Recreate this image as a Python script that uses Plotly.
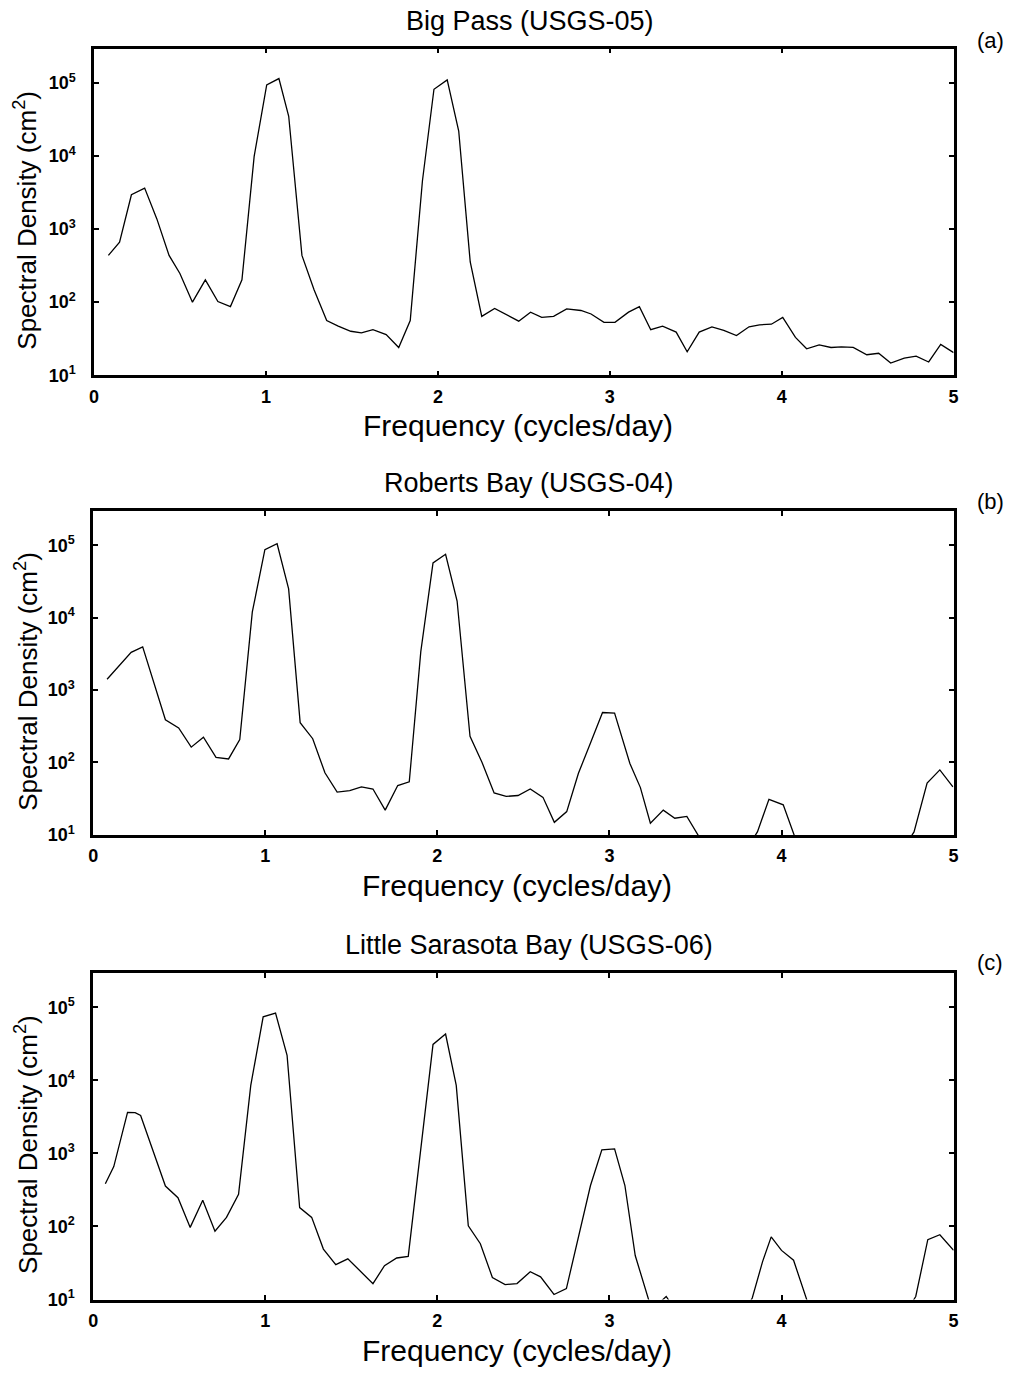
import plotly.graph_objects as go

# ---------------- data ----------------
freq_a = [0.083, 0.148, 0.217, 0.294, 0.365, 0.436, 0.499, 0.572, 0.647, 0.72, 0.793, 0.86, 0.931, 1.004,
          1.075, 1.132, 1.209, 1.28, 1.353, 1.42, 1.493, 1.555, 1.622, 1.699, 1.772, 1.839, 1.91, 1.977,
          2.054, 2.121, 2.188, 2.255, 2.33, 2.40, 2.47, 2.539, 2.604, 2.673, 2.749, 2.832, 2.891, 2.966,
          3.03, 3.109, 3.172, 3.238, 3.307, 3.386, 3.45, 3.52, 3.594, 3.663, 3.737, 3.81, 3.871, 3.94,
          4.006, 4.08, 4.145, 4.218, 4.287, 4.347, 4.416, 4.495, 4.564, 4.634, 4.713, 4.782, 4.855,
          4.925, 5.0]
dens_a = [437, 664, 2950, 3640, 1380, 437, 247, 100, 202, 102, 87, 202, 9900, 94000, 115000, 35000, 437,
          147, 56, 47, 40, 38, 42, 36, 24, 56, 4600, 82000, 110000, 22000, 355, 64, 82, 67, 55, 73, 62,
          64, 81, 77, 69, 53, 53, 73, 87, 42, 47, 39, 21, 39, 46, 41, 35, 46, 49, 50, 62, 33, 23, 26,
          24, 24.5, 24, 19.1, 20, 14.7, 17.2, 18.3, 15.2, 26.5, 20.4]

freq_b = [0.081, 0.148, 0.221, 0.288, 0.355, 0.42, 0.497, 0.57, 0.641, 0.714, 0.787, 0.852, 0.925, 0.998,
          1.069, 1.136, 1.203, 1.276, 1.347, 1.418, 1.491, 1.559, 1.626, 1.697, 1.77, 1.837, 1.904,
          1.975, 2.048, 2.115, 2.19, 2.26, 2.33, 2.40, 2.469, 2.54, 2.614, 2.68, 2.752, 2.82, 2.89,
          2.96, 3.03, 3.119, 3.18, 3.238, 3.313, 3.38, 3.45, 3.52, 3.59, 3.66, 3.73, 3.80, 3.86, 3.927,
          4.01, 4.08, 4.15, 4.22, 4.29, 4.36, 4.43, 4.50, 4.57, 4.64, 4.71, 4.77, 4.846, 4.92, 4.996]
dens_b = [1410, 2130, 3320, 3960, 1250, 390, 300, 163, 224, 118, 112, 207, 12000, 87000, 105000, 25000,
          355, 213, 72, 39, 41, 46, 43, 22, 48, 54, 3400, 57000, 75000, 17000, 230, 100, 38, 34, 35, 43,
          33, 14.9, 21, 71, 186, 490, 480, 97, 45, 14.5, 22, 17, 18, 9.5, 6, 5, 5, 6.5, 11, 31, 26, 9,
          5, 4, 4, 3.5, 4, 3.5, 4, 5, 6.5, 11, 52, 79, 46]

freq_c = [0.071, 0.12, 0.2, 0.244, 0.276, 0.35, 0.42, 0.493, 0.564, 0.637, 0.708, 0.775, 0.845, 0.916,
          0.988, 1.06, 1.127, 1.2, 1.27, 1.338, 1.41, 1.48, 1.555, 1.626, 1.693, 1.764, 1.831, 1.90,
          1.975, 2.048, 2.11, 2.18, 2.25, 2.32, 2.394, 2.463, 2.54, 2.60, 2.678, 2.75, 2.82, 2.89,
          2.956, 3.03, 3.09, 3.15, 3.24, 3.29, 3.33, 3.37, 3.44, 3.51, 3.58, 3.65, 3.72, 3.79, 3.83,
          3.89, 3.94, 4.0, 4.07, 4.16, 4.23, 4.30, 4.37, 4.44, 4.51, 4.58, 4.65, 4.72, 4.78, 4.85,
          4.92, 5.0]
dens_c = [383, 660, 3630, 3600, 3300, 1080, 357, 247, 97, 228, 86, 133, 275, 8500, 74000, 83000, 22000,
          181, 133, 49, 30, 36, 24, 16.5, 29, 37, 39, 1000, 31000, 43000, 8500, 102, 58, 20, 16, 16.5,
          24, 20.4, 11.7, 14.1, 70, 363, 1120, 1150, 363, 40, 8, 9, 11, 8, 5, 4, 3.5, 3.5, 4, 7, 10.5,
          33, 72, 47, 34.5, 8, 5, 4, 3.5, 3.5, 4, 4, 5, 6.5, 11, 66, 77, 47]

titles = ["Big Pass (USGS-05)", "Roberts Bay (USGS-04)", "Little Sarasota Bay (USGS-06)"]
letters = ["(a)", "(b)", "(c)"]
x_ticks = [0, 1, 2, 3, 4, 5]
y_ticks = [10, 100, 1000, 10000, 100000]
y_ticktext = ["<b>10<sup>1</sup></b>", "<b>10<sup>2</sup></b>", "<b>10<sup>3</sup></b>",
              "<b>10<sup>4</sup></b>", "<b>10<sup>5</sup></b>"]
x_title = "Frequency (cycles/day)"
y_title = "Spectral Density (cm<sup>2</sup>)"

# ---------------- layout ----------------
W, H = 1020, 1378
FONT = "Liberation Sans, Arial, sans-serif"
panels = [  # pixel boxes: left, right, top, bottom
    (90, 958, 49, 378),
    (89, 958, 515, 841),
    (89, 958, 980, 1309),
]
series = [(freq_a, dens_a), (freq_b, dens_b), (freq_c, dens_c)]

def px(x):
    return x / W

def py(y):
    return 1 - y / H

fig = go.Figure()
layout = dict(
    width=W, height=H,
    margin=dict(l=0, r=0, t=0, b=0, pad=0),
    paper_bgcolor="white", plot_bgcolor="white",
    showlegend=False,
    font=dict(family=FONT, color="black"),
)
annotations = []
for i, ((l, r, t, b), (fx, dv)) in enumerate(zip(panels, series)):
    n = "" if i == 0 else str(i + 1)
    fig.add_trace(go.Scatter(x=fx, y=dv, mode="lines", xaxis="x" + n, yaxis="y" + n,
                             line=dict(color="black", width=1.3), hoverinfo="skip"))
    layout["xaxis" + n] = dict(
        domain=[px(l), px(r)], anchor="y" + n, range=[0, 5],
        tickvals=x_ticks, ticktext=["<b>%d</b>" % v for v in x_ticks],
        ticks="inside", ticklen=5, tickwidth=1.5, tickcolor="black",
        showline=True, linecolor="black", linewidth=2.5, mirror="ticks",
        showgrid=False, zeroline=False,
        tickfont=dict(family=FONT, size=18, color="black"),
        ticklabelstandoff=3,
    )
    layout["yaxis" + n] = dict(
        domain=[py(b), py(t)], anchor="x" + n, type="log", range=[1, 5.47],
        tickvals=y_ticks, ticktext=y_ticktext,
        ticks="inside", ticklen=5, tickwidth=1.5, tickcolor="black",
        showline=True, linecolor="black", linewidth=2.5, mirror="ticks",
        showgrid=False, zeroline=False,
        tickfont=dict(family=FONT, size=18, color="black"),
        ticklabelstandoff=12,
    )
    cx = (l + r) / 2
    annotations.append(dict(text=titles[i], x=px(cx + 6), y=py(t - 28), xref="paper", yref="paper",
                            showarrow=False, xanchor="center", yanchor="middle",
                            font=dict(family=FONT, size=27, color="black")))
    annotations.append(dict(text=letters[i], x=px(995), y=py(t - 8 if i == 0 else t - 10),
                            xref="paper", yref="paper",
                            showarrow=False, xanchor="center", yanchor="middle",
                            font=dict(family=FONT, size=22, color="black")))
    annotations.append(dict(text=x_title, x=px(cx - 6), y=py(b + 51), xref="paper", yref="paper",
                            showarrow=False, xanchor="center", yanchor="middle",
                            font=dict(family=FONT, size=30, color="black")))
    annotations.append(dict(text=y_title, x=px(21), y=py((t + b) / 2 + 8), xref="paper", yref="paper",
                            showarrow=False, xanchor="center", yanchor="middle", textangle=-90,
                            font=dict(family=FONT, size=26, color="black")))
layout["annotations"] = annotations
fig.update_layout(**layout)
fig.write_html("out.html")
